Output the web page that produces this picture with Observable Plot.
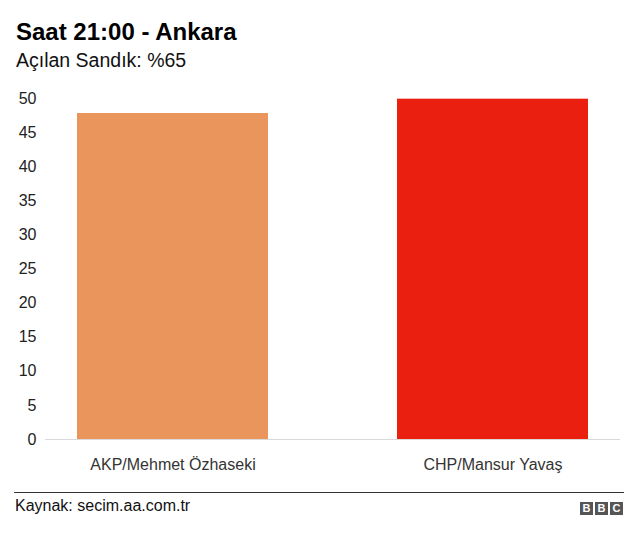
<!DOCTYPE html>
<html>
<head>
<meta charset="utf-8">
<script src="https://cdn.jsdelivr.net/npm/d3@7"></script>
<script src="https://cdn.jsdelivr.net/npm/@observablehq/plot@0.6"></script>
<style>
  html, body { margin: 0; padding: 0; background: #fff; width: 640px; height: 537px; overflow: hidden; font-family: "Liberation Sans", Arial, Helvetica, sans-serif; }
  #wrap { position: relative; width: 640px; height: 537px; }
  #title { position: absolute; left: 16px; top: 20px; font-size: 24px; font-weight: bold; color: #000; line-height: 1; }
  #subtitle { position: absolute; left: 16px; top: 51px; font-size: 19.5px; color: #111; line-height: 1; }
  #chart { position: absolute; left: 0; top: 80px; }
  #rule { position: absolute; left: 14px; top: 492px; width: 610px; height: 0; border-top: 1px solid #333; }
  #source { position: absolute; left: 15px; top: 498px; font-size: 16px; color: #111; line-height: 1; }
  #bbc { position: absolute; left: 580px; top: 502px; display: flex; gap: 2px; }
  #bbc span { display: block; width: 13px; height: 13px; background: #555; color: #fff; font-size: 11px; font-weight: bold; text-align: center; line-height: 13px; }
</style>
</head>
<body>
<div id="wrap">
  <div id="title">Saat 21:00 - Ankara</div>
  <div id="subtitle">Açılan Sandık: %65</div>
  <div id="chart"></div>
  <div id="rule"></div>
  <div id="source">Kaynak: secim.aa.com.tr</div>
  <div id="bbc"><span>B</span><span>B</span><span>C</span></div>
</div>
<script>
const candidates = ["AKP/Mehmet Özhaseki", "CHP/Mansur Yavaş"];
const votes = [47.8, 49.9];
const colors = ["#E9955C", "#EA1F10"];
const yTicks = [0, 5, 10, 15, 20, 25, 30, 35, 40, 45, 50];

const data = candidates.map((c, i) => ({candidate: c, value: votes[i], color: colors[i]}));

const chart = Plot.plot({
  width: 640,
  height: 400,
  marginLeft: 45,
  marginRight: 20,
  marginTop: 18,
  marginBottom: 41,
  style: {fontFamily: '"Liberation Sans", Arial, sans-serif', fontSize: "16px", color: "#222", background: "#fff"},
  x: {domain: candidates, paddingInner: 0.404, paddingOuter: 0.1, label: null},
  y: {domain: [0, 50], label: null},
  marks: [
    Plot.barY(data, {x: "candidate", y: "value", fill: "color"}),
    Plot.ruleY([0], {stroke: "#d9d9d9", strokeWidth: 1.2}),
    Plot.axisY({ticks: yTicks, tickSize: 0, tickPadding: 9, label: null, fill: "#222", fontSize: 16}),
    Plot.axisX({tickSize: 0, tickPadding: 19, label: null, fill: "#333", fontSize: 16})
  ]
});
document.getElementById("chart").appendChild(chart);
</script>
</body>
</html>
